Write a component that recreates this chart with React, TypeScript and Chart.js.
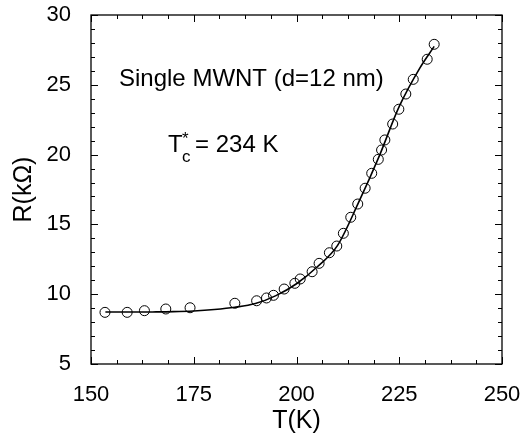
import React, { useEffect, useRef } from "react";
import { Chart, registerables } from "chart.js";

Chart.register(...registerables);

// Measured points
const dataT = [153.4, 158.8, 163.0, 168.2, 174.1, 185.0, 190.3, 192.7, 194.4, 197.0, 199.6, 200.9, 203.8, 205.5, 208.0, 209.8, 211.4, 213.2, 214.9, 216.7, 218.3, 219.9, 220.7, 221.5, 223.4, 224.9, 226.6, 228.4, 231.8, 233.5];
const dataR = [8.70, 8.70, 8.82, 8.94, 9.03, 9.35, 9.53, 9.73, 9.92, 10.37, 10.78, 11.09, 11.61, 12.21, 12.97, 13.45, 14.36, 15.51, 16.46, 17.59, 18.66, 19.66, 20.33, 21.05, 22.19, 23.25, 24.34, 25.39, 26.83, 27.90];

// Fit curve
const fitT = [153.5, 160, 165, 170, 175, 180, 185, 190, 195, 200, 205, 210, 215, 220, 225, 230, 233.5];
const fitR = [8.72, 8.72, 8.73, 8.75, 8.80, 8.90, 9.06, 9.33, 9.90, 10.75, 11.95, 13.5, 16.5, 19.8, 23.45, 26.2, 27.75];

// Axis ranges / ticks
const xMin = 150, xMax = 250, xStep = 25, xMinor = 6.25;
const yMin = 5, yMax = 30, yStep = 5, yMinor = 1;

const FONT = "'Liberation Sans', Arial, Helvetica, sans-serif";

const framePlugin = {
  id: "frame",
  afterDraw(chart: any) {
    const { ctx, chartArea: a, scales } = chart;
    const xs = scales.x, ys = scales.y;
    ctx.save();
    ctx.strokeStyle = "#000";
    ctx.lineWidth = 1.3;
    ctx.strokeRect(a.left, a.top, a.right - a.left, a.bottom - a.top);
    ctx.lineWidth = 1;
    ctx.beginPath();
    const nx = Math.round((xMax - xMin) / xMinor);
    for (let i = 0; i <= nx; i++) {
      const v = xMin + i * xMinor;
      const major = Math.abs(v / xStep - Math.round(v / xStep)) < 1e-6;
      const len = major ? 7 : 4;
      const px = Math.round(xs.getPixelForValue(v)) + 0.5;
      ctx.moveTo(px, a.bottom); ctx.lineTo(px, a.bottom - len);
      ctx.moveTo(px, a.top); ctx.lineTo(px, a.top + len);
    }
    const ny = Math.round((yMax - yMin) / yMinor);
    for (let i = 0; i <= ny; i++) {
      const v = yMin + i * yMinor;
      const major = Math.abs(v / yStep - Math.round(v / yStep)) < 1e-6;
      const len = major ? 7 : 4;
      const py = Math.round(ys.getPixelForValue(v)) + 0.5;
      ctx.moveTo(a.left, py); ctx.lineTo(a.left + len, py);
      ctx.moveTo(a.right, py); ctx.lineTo(a.right - len, py);
    }
    ctx.stroke();

    // annotations
    ctx.fillStyle = "#000";
    ctx.textBaseline = "alphabetic";
    ctx.textAlign = "left";
    ctx.font = `24px ${FONT}`;
    ctx.fillText("Single MWNT (d=12 nm)", 119, 86);
    ctx.fillText("T", 168, 152);
    ctx.font = `17px ${FONT}`;
    ctx.fillText("*", 182, 144);
    ctx.fillText("c", 182, 162);
    ctx.font = `24px ${FONT}`;
    ctx.fillText("= 234 K", 195, 152);
    ctx.restore();
  },
};

export default function App() {
  const ref = useRef<HTMLCanvasElement>(null);
  useEffect(() => {
    if (!ref.current) return;
    Chart.defaults.font.family = FONT;
    Chart.defaults.color = "#000";
    const chart = new Chart(ref.current, {
      type: "scatter",
      data: {
        datasets: [
          {
            label: "fit",
            data: fitT.map((t, i) => ({ x: t, y: fitR[i] })),
            showLine: true,
            borderColor: "#000",
            borderWidth: 1.6,
            pointRadius: 0,
            cubicInterpolationMode: "monotone",
          } as any,
          {
            label: "data",
            data: dataT.map((t, i) => ({ x: t, y: dataR[i] })),
            showLine: false,
            pointStyle: "circle",
            pointRadius: 5,
            pointBorderWidth: 1,
            pointBorderColor: "#000",
            pointBackgroundColor: "rgba(0,0,0,0)",
          },
        ],
      },
      options: {
        animation: false,
        responsive: false,
        maintainAspectRatio: false,
        layout: { padding: { left: 0, top: 15, right: 20, bottom: 0 } },
        plugins: { legend: { display: false }, tooltip: { enabled: false } },
        scales: {
          x: {
            type: "linear",
            min: xMin,
            max: xMax,
            grid: { display: false },
            border: { display: false },
            ticks: { stepSize: xStep, padding: 10, font: { size: 22 }, color: "#000", maxRotation: 0 },
            title: { display: true, text: "T(K)", font: { size: 25 }, color: "#000", padding: { top: 0, bottom: 2 } },
            afterFit: (s: any) => { s.height = 74; s.paddingLeft = 0; s.paddingRight = 0; },
          },
          y: {
            type: "linear",
            min: yMin,
            max: yMax,
            grid: { display: false },
            border: { display: false },
            ticks: { stepSize: yStep, padding: 12, font: { size: 22 }, color: "#000" },
            title: { display: true, text: "R(kΩ)", font: { size: 25 }, color: "#000", padding: { top: 9, bottom: 0 } },
            afterFit: (s: any) => { s.width = 91; s.paddingTop = 0; s.paddingBottom = 0; },
          },
        },
      },
      plugins: [framePlugin],
    });
    return () => chart.destroy();
  }, []);
  return (
    <div style={{ position: "absolute", left: 0, top: 0, width: 522, height: 438, background: "#fff" }}>
      <canvas ref={ref} width={522} height={438} style={{ width: 522, height: 438 }} />
    </div>
  );
}
